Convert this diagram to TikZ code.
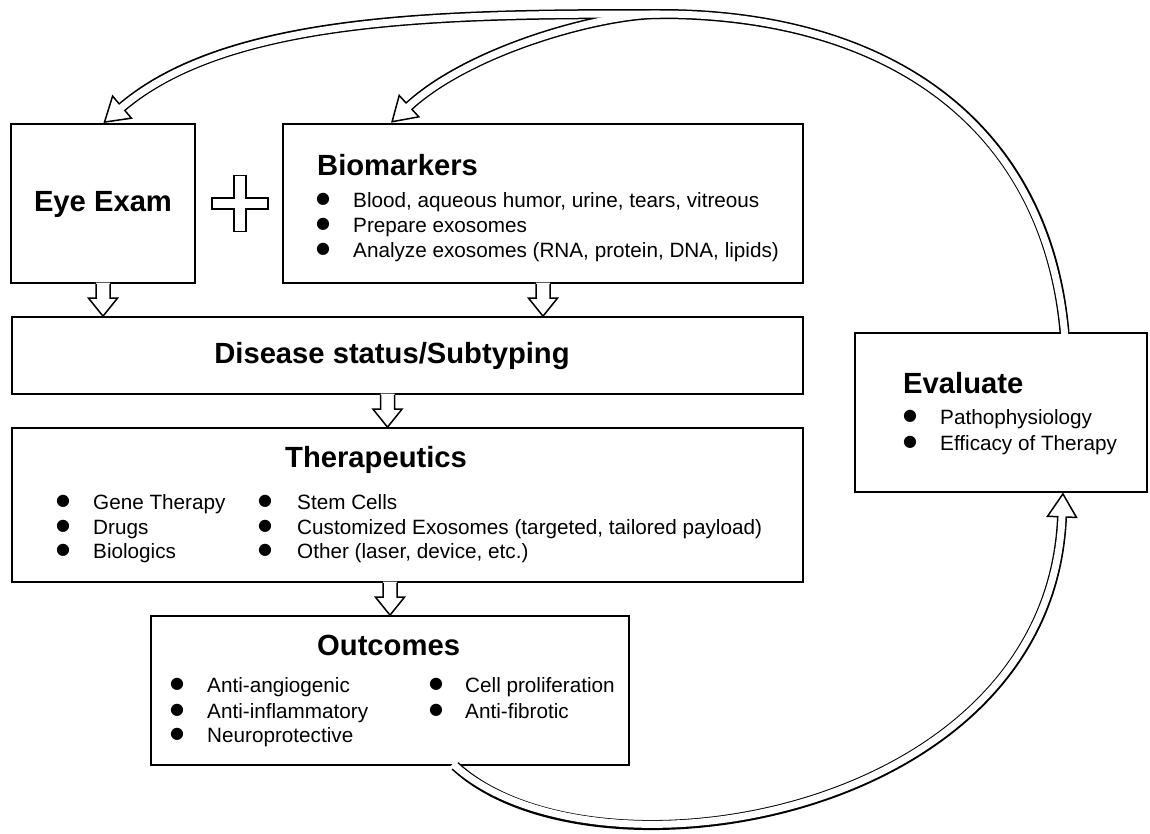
\documentclass[tikz,border=0pt]{standalone}
\usepackage{fontspec}
\setmainfont{Liberation Sans}
\newfontfamily\symfont{DejaVu Sans}
\usetikzlibrary{calc}

\tikzset{
  box/.style={draw=black, line width=1.7pt, fill=white, inner sep=0pt},
  title/.style={font=\fontsize{29.2}{34}\selectfont\bfseries, anchor=base west, inner sep=0pt},
  item/.style={font=\fontsize{20.7}{24}\selectfont, anchor=base west, inner sep=0pt},
  dot/.style={font=\symfont\fontsize{16}{16}\selectfont, inner sep=0pt, anchor=center},
  blockline/.style={draw=black, line width=1.5pt, line join=miter},
  dblout/.style={draw=black, line width=10pt},
  dblin/.style={draw=white, line width=7pt},
  headstyle/.style={draw=black, line width=1.5pt, fill=white, line join=miter},
  plusstyle/.style={draw=black, line width=1.6pt, fill=white, line join=miter},
}

% hollow arrow head: #1 = base centre, #2 = last control point of the shaft
\newcommand{\hollowhead}[2]{%
  \draw[headstyle] ($(#1)!-23pt!(#2)$) -- ($(#1)!14.5pt!90:(#2)$) -- ($(#1)!14.5pt!-90:(#2)$) -- cycle;}
% straight block arrow pointing down: #1 = top (on box edge), #2 = tip
\newcommand{\blockdown}[2]{%
  \fill[white] ($(#1)+(-7,-1.2)$) -- ($(#2)+(-7,-18)$) -- ($(#2)+(-14.5,-18)$) -- (#2) --
     ($(#2)+(14.5,-18)$) -- ($(#2)+(7,-18)$) -- ($(#1)+(7,-1.2)$) -- cycle;
  \draw[blockline] ($(#1)+(-7,0)$) -- ($(#2)+(-7,-18)$) -- ($(#2)+(-14.5,-18)$) -- (#2) --
     ($(#2)+(14.5,-18)$) -- ($(#2)+(7,-18)$) -- ($(#1)+(7,0)$);}
% bullet item: name, bullet x, text x, baseline, text
\newcommand{\bitem}[5]{%
  \node[dot] (#1d) at (#2,#4-7.3) {●};
  \node[item] (#1) at (#3,#4) {#5};}

\begin{document}
\begin{tikzpicture}[x=1pt,y=-1pt]
\useasboundingbox (0,0) rectangle (1150,833);
\fill[white] (0,0) rectangle (1150,833);

% boxes
\node[box, minimum width=184pt, minimum height=159pt] (eye) at (103,203.5) {};
\node[box, minimum width=520pt, minimum height=159pt] (bio) at (543,203.5) {};
\node[box, minimum width=791pt, minimum height=77pt]  (dis) at (407.5,355.5) {};
\node[box, minimum width=791pt, minimum height=154pt] (ther) at (407.5,505) {};
\node[box, minimum width=478pt, minimum height=149pt] (out) at (390,690.5) {};
\node[box, minimum width=292pt, minimum height=159pt] (ev) at (1001,412.5) {};

% plus sign
\coordinate (plus) at (240,203.5);
\draw[plusstyle, shift={(plus)}] (-6,-28) -- (6,-28) -- (6,-5.5) -- (28,-5.5) -- (28,5.5) -- (6,5.5)
  -- (6,28) -- (-6,28) -- (-6,5.5) -- (-28,5.5) -- (-28,-5.5) -- (-6,-5.5) -- cycle;

% texts
\node[title, anchor=base] (eyet) at (103,211) {Eye Exam};

\node[title] (biot) at (317,175) {Biomarkers};
\bitem{b1}{323}{353}{207}{Blood, aqueous humor, urine, tears, vitreous}
\bitem{b2}{323}{353}{232}{Prepare exosomes}
\bitem{b3}{323}{353}{257}{Analyze exosomes (RNA, protein, DNA, lipids)}

\node[title, anchor=base] (dist) at (392,363) {Disease status/Subtyping};

\node[title] (thert) at (285,467) {Therapeutics};
\bitem{t1}{63}{93}{509}{Gene Therapy}
\bitem{t2}{63}{93}{534}{Drugs}
\bitem{t3}{63}{93}{558}{Biologics}
\bitem{t4}{265}{297}{509}{Stem Cells}
\bitem{t5}{265}{297}{534}{Customized Exosomes (targeted, tailored payload)}
\bitem{t6}{265}{297}{558}{Other (laser, device, etc.)}

\node[title] (outt) at (317,655) {Outcomes};
\bitem{o1}{177}{207}{692}{Anti-angiogenic}
\bitem{o2}{177}{207}{718}{Anti-inflammatory}
\bitem{o3}{177}{207}{742}{Neuroprotective}
\bitem{o4}{436}{465}{692}{Cell proliferation}
\bitem{o5}{436}{465}{718}{Anti-fibrotic}

\node[title] (evt) at (903,393) {Evaluate};
\bitem{e1}{910}{940}{424}{Pathophysiology}
\bitem{e2}{910}{940}{450}{Efficacy of Therapy}

% straight block arrows
\blockdown{eye.south}{eye.south |- dis.north}
\blockdown{bio.south}{bio.south |- dis.north}
\coordinate (dsx) at ([xshift=-20pt]dis.south);
\blockdown{dsx}{dsx |- ther.north}
\blockdown{out.north |- ther.south}{out.north}

% curved double arrows
\coordinate (evtop) at ([xshift=63.5pt]ev.north);
\coordinate (J) at (660,14);
\coordinate (eyeh) at ([xshift=19pt,yshift=16pt]eye.north);
\coordinate (bioh) at ([xshift=-134pt,yshift=17pt]bio.north);
\coordinate (outs) at ([xshift=65pt]out.south);
\coordinate (evh) at ([xshift=61pt,yshift=-24pt]ev.south);
\coordinate (a1) at (1046,122);
\coordinate (a2) at (885,14);
\coordinate (a3) at (450,14);
\coordinate (a4) at (230,15);
\coordinate (b1) at (600,14);
\coordinate (b2) at (470,50);
\coordinate (c1) at (590,892);
\coordinate (c2) at (1050,820);

\hollowhead{eyeh}{a4}
\hollowhead{bioh}{b2}
\hollowhead{evh}{c2}

\draw[dblout] (evtop) .. controls (a1) and (a2) .. (J) .. controls (a3) and (a4) .. (eyeh);
\draw[dblout] (J) .. controls (b1) and (b2) .. (bioh);
\draw[dblout] (outs) .. controls (c1) and (c2) .. (evh);

\draw[dblin, shorten <=-3pt, shorten >=-1.5pt] (evtop) .. controls (a1) and (a2) .. (J) .. controls (a3) and (a4) .. (eyeh);
\draw[dblin, shorten >=-1.5pt] (J) .. controls (b1) and (b2) .. (bioh);
\draw[dblin, shorten <=-3pt, shorten >=-1.5pt] (outs) .. controls (c1) and (c2) .. (evh);
\end{tikzpicture}
\end{document}
